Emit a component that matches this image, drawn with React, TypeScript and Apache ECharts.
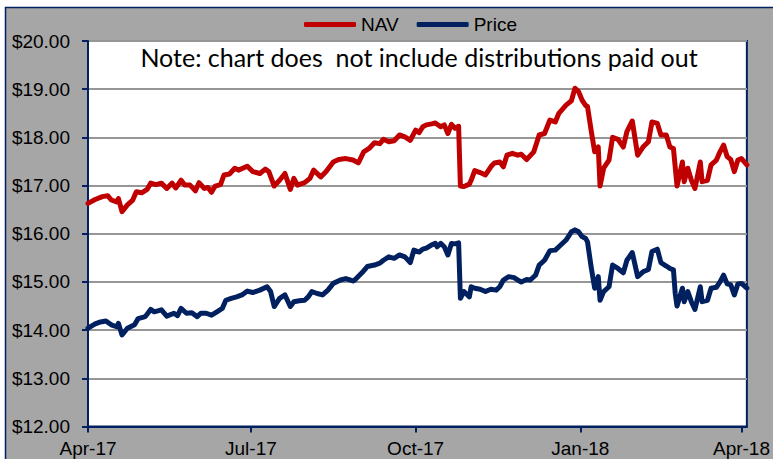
import React, { useEffect, useRef } from "react";
import * as echarts from "echarts";

const navDates = [
  "2017-04-01","2017-04-05","2017-04-09","2017-04-12","2017-04-14","2017-04-17","2017-04-18","2017-04-20","2017-04-23","2017-04-26","2017-04-28",
  "2017-05-01","2017-05-04","2017-05-06","2017-05-09","2017-05-12","2017-05-15","2017-05-18","2017-05-20","2017-05-23","2017-05-25","2017-05-28","2017-05-31",
  "2017-06-02","2017-06-05","2017-06-07","2017-06-09","2017-06-11","2017-06-14","2017-06-16","2017-06-19","2017-06-22","2017-06-24","2017-06-29",
  "2017-07-02","2017-07-06","2017-07-09","2017-07-11","2017-07-14","2017-07-17","2017-07-20","2017-07-23","2017-07-25","2017-07-27","2017-07-31",
  "2017-08-03","2017-08-05","2017-08-09","2017-08-12","2017-08-16","2017-08-19","2017-08-23","2017-08-27","2017-08-30",
  "2017-09-02","2017-09-05","2017-09-08","2017-09-11","2017-09-13","2017-09-16","2017-09-19","2017-09-22","2017-09-25","2017-09-28",
  "2017-10-01","2017-10-03","2017-10-05","2017-10-07","2017-10-10","2017-10-12","2017-10-15","2017-10-17","2017-10-19","2017-10-21","2017-10-23","2017-10-25","2017-10-26","2017-10-28","2017-10-31",
  "2017-11-01","2017-11-03","2017-11-06","2017-11-09","2017-11-12","2017-11-14","2017-11-17","2017-11-19","2017-11-21","2017-11-24","2017-11-27","2017-11-29",
  "2017-12-02","2017-12-06","2017-12-09","2017-12-12","2017-12-15","2017-12-18","2017-12-20","2017-12-24","2017-12-27","2017-12-29","2017-12-31",
  "2018-01-02","2018-01-04","2018-01-05","2018-01-07","2018-01-09","2018-01-11","2018-01-12","2018-01-14","2018-01-17","2018-01-19","2018-01-22","2018-01-25","2018-01-27","2018-01-30",
  "2018-02-02","2018-02-05","2018-02-08","2018-02-10","2018-02-13","2018-02-15","2018-02-18","2018-02-20","2018-02-22","2018-02-24","2018-02-27","2018-02-28",
  "2018-03-02","2018-03-04","2018-03-06","2018-03-09","2018-03-10","2018-03-13","2018-03-15","2018-03-18","2018-03-20","2018-03-22","2018-03-24","2018-03-26","2018-03-28","2018-03-30",
  "2018-04-01","2018-04-04",
];

const navValues = [
  16.63,16.71,16.77,16.79,16.70,16.66,16.73,16.46,16.60,16.70,16.87,
  16.85,16.92,17.05,17.02,17.05,16.94,17.05,16.95,17.11,17.01,17.01,16.89,
  17.06,16.94,16.96,16.86,16.99,17.02,17.22,17.24,17.36,17.32,17.40,
  17.29,17.25,17.34,17.29,16.99,17.11,17.25,16.92,17.15,17.01,17.06,
  17.15,17.32,17.18,17.29,17.49,17.54,17.56,17.53,17.47,
  17.70,17.77,17.89,17.87,17.96,17.91,17.93,18.05,18.01,17.94,
  18.15,18.10,18.22,18.26,18.28,18.30,18.22,18.26,18.08,18.27,18.19,18.23,16.99,16.98,17.03,
  17.11,17.31,17.27,17.22,17.39,17.47,17.49,17.39,17.63,17.67,17.63,17.65,
  17.54,17.70,18.05,18.08,18.36,18.32,18.50,18.67,18.76,19.02,18.95,
  18.77,18.66,18.64,18.15,17.70,17.80,16.99,17.36,17.53,18.00,17.96,17.80,18.12,18.34,
  17.63,17.80,17.91,18.32,18.29,18.05,18.05,17.80,17.77,16.99,17.49,17.08,
  17.36,17.11,16.94,17.49,17.08,17.11,17.43,17.53,17.70,17.84,17.60,17.54,17.29,17.53,
  17.56,17.43,
];

const priceDates = [
  "2017-04-01","2017-04-05","2017-04-08","2017-04-11","2017-04-14","2017-04-17","2017-04-18","2017-04-20","2017-04-23","2017-04-27","2017-04-29",
  "2017-05-03","2017-05-06","2017-05-08","2017-05-12","2017-05-15","2017-05-19","2017-05-21","2017-05-23","2017-05-26","2017-05-29",
  "2017-06-01","2017-06-03","2017-06-06","2017-06-09","2017-06-12","2017-06-15","2017-06-17","2017-06-20","2017-06-23","2017-06-26","2017-06-29",
  "2017-07-02","2017-07-06","2017-07-10","2017-07-12","2017-07-14","2017-07-17","2017-07-20","2017-07-23","2017-07-25","2017-07-28","2017-07-31",
  "2017-08-02","2017-08-04","2017-08-07","2017-08-10","2017-08-13","2017-08-16","2017-08-20","2017-08-23","2017-08-27","2017-08-28",
  "2017-09-01","2017-09-04","2017-09-08","2017-09-11","2017-09-13","2017-09-16","2017-09-19","2017-09-22","2017-09-25","2017-09-28","2017-09-30",
  "2017-10-03","2017-10-05","2017-10-07","2017-10-10","2017-10-12","2017-10-13","2017-10-15","2017-10-17","2017-10-19","2017-10-21","2017-10-23","2017-10-25","2017-10-26","2017-10-28","2017-10-30","2017-10-31",
  "2017-11-01","2017-11-03","2017-11-06","2017-11-09","2017-11-12","2017-11-15","2017-11-17","2017-11-19","2017-11-22","2017-11-25","2017-11-27","2017-11-29",
  "2017-12-02","2017-12-04","2017-12-07","2017-12-09","2017-12-12","2017-12-15","2017-12-18","2017-12-20","2017-12-24","2017-12-27","2017-12-29","2017-12-31",
  "2018-01-02","2018-01-04","2018-01-05","2018-01-07","2018-01-09","2018-01-11","2018-01-12","2018-01-14","2018-01-17","2018-01-19","2018-01-22","2018-01-25","2018-01-27","2018-01-30",
  "2018-02-02","2018-02-05","2018-02-08","2018-02-10","2018-02-13","2018-02-15","2018-02-18","2018-02-20","2018-02-22","2018-02-23","2018-02-24","2018-02-27","2018-02-28",
  "2018-03-02","2018-03-04","2018-03-06","2018-03-09","2018-03-10","2018-03-13","2018-03-15","2018-03-18","2018-03-20","2018-03-22","2018-03-24","2018-03-26","2018-03-28","2018-03-30",
  "2018-04-01","2018-04-04",
];

const priceValues = [
  14.04,14.13,14.17,14.19,14.11,14.07,14.14,13.90,14.04,14.11,14.24,
  14.28,14.43,14.38,14.42,14.29,14.35,14.30,14.45,14.35,14.36,
  14.28,14.35,14.35,14.31,14.38,14.45,14.62,14.66,14.69,14.73,14.81,
  14.78,14.83,14.90,14.80,14.49,14.66,14.73,14.49,14.59,14.61,14.62,
  14.69,14.80,14.76,14.73,14.83,14.97,15.04,15.07,15.02,15.04,
  15.19,15.32,15.35,15.39,15.45,15.52,15.49,15.56,15.52,15.40,15.66,
  15.62,15.68,15.70,15.77,15.80,15.73,15.80,15.73,15.56,15.80,15.79,15.81,14.66,14.80,14.73,14.69,
  14.90,14.87,14.85,14.80,14.85,14.83,14.90,15.04,15.11,15.09,15.04,15.00,
  15.05,15.04,15.14,15.35,15.45,15.65,15.66,15.73,15.87,16.04,16.08,16.04,
  15.94,15.90,15.83,15.32,14.87,15.11,14.62,14.80,14.90,15.35,15.28,15.19,15.45,15.61,
  15.11,15.21,15.26,15.63,15.68,15.40,15.33,15.28,15.25,14.76,14.50,14.87,14.59,
  14.80,14.59,14.43,14.90,14.59,14.62,14.87,14.89,15.00,15.14,14.96,14.94,14.73,14.96,
  14.97,14.87,
];

const quarterTicks = ["2017-04-01", "2017-07-01", "2017-10-01", "2018-01-01", "2018-04-01"];
const axisStart = "2017-04-01";
const axisEnd = "2018-04-04";
const yMin = 12;
const yMax = 20;
const yStep = 1;
const seriesNames = ["NAV", "Price"];
const noteText = "Note: chart does  not include distributions paid out";

const MONTHS = ["Jan","Feb","Mar","Apr","May","Jun","Jul","Aug","Sep","Oct","Nov","Dec"];

function toTime(s: string): number {
  const [y, m, d] = s.split("-").map(Number);
  return new Date(y, m - 1, d).getTime();
}

const NAVY = "#002060";
const RED = "#C00000";
const AXIS_FONT = "'Liberation Sans', Arial, sans-serif";

export default function App() {
  const ref = useRef<HTMLDivElement>(null);

  useEffect(() => {
    if (!ref.current) return;
    const chart = echarts.init(ref.current, null, { renderer: "svg" });

    const navData = navDates.map((d, i) => [toTime(d), navValues[i]]);
    const priceData = priceDates.map((d, i) => [toTime(d), priceValues[i]]);
    const ticks = quarterTicks.map(toTime);

    chart.setOption({
      animation: false,
      backgroundColor: "#ffffff",
      graphic: [
        {
          type: "rect",
          z: -10,
          silent: true,
          shape: { x: 5.5, y: 7.5, width: 800, height: 500 },
          style: { fill: "#a6a6a6", stroke: NAVY, lineWidth: 1.5 },
        },
        {
          type: "text",
          z: 10,
          x: 419,
          y: 57,
          style: {
            text: noteText,
            font: "25px Lato, 'Noto Sans', sans-serif",
            fill: "#000000",
            textAlign: "center",
            textVerticalAlign: "middle",
          },
        },
      ],
      legend: {
        data: [
          { name: seriesNames[0], icon: "roundRect" },
          { name: seriesNames[1], icon: "roundRect" },
        ],
        left: 299,
        top: 10,
        itemWidth: 52,
        itemHeight: 5,
        itemGap: 18,
        textStyle: { fontSize: 19, fontFamily: AXIS_FONT, color: "#000" },
      },
      grid: {
        left: 88,
        right: 21,
        top: 41,
        bottom: 32.5,
        show: true,
        backgroundColor: "#ffffff",
        borderColor: NAVY,
        borderWidth: 2,
        containLabel: false,
      },
      xAxis: {
        type: "value",
        min: toTime(axisStart),
        max: toTime(axisEnd),
        axisLine: { show: true, lineStyle: { color: NAVY, width: 2 } },
        axisTick: {
          show: true,
          customValues: ticks,
          length: 6,
          lineStyle: { color: NAVY, width: 2 },
        },
        axisLabel: {
          customValues: ticks,
          margin: 12,
          fontSize: 19,
          fontFamily: AXIS_FONT,
          color: "#000",
          formatter: (val: number) => {
            const d = new Date(val);
            return MONTHS[d.getMonth()] + "-" + String(d.getFullYear()).slice(2);
          },
        },
        splitLine: { show: false },
      },
      yAxis: {
        type: "value",
        min: yMin,
        max: yMax,
        interval: yStep,
        axisLine: { show: true, lineStyle: { color: NAVY, width: 2 } },
        axisTick: { show: true, length: 6, lineStyle: { color: NAVY, width: 2 } },
        axisLabel: {
          margin: 18,
          fontSize: 19,
          fontFamily: AXIS_FONT,
          color: "#000",
          formatter: (v: number) => "$" + v.toFixed(2),
        },
        splitLine: { show: true, lineStyle: { color: "#969696", width: 2 } },
      },
      series: [
        {
          name: seriesNames[0],
          type: "line",
          data: navData,
          symbol: "none",
          showSymbol: false,
          lineStyle: { color: RED, width: 5, cap: "round", join: "round" },
          itemStyle: { color: RED },
        },
        {
          name: seriesNames[1],
          type: "line",
          data: priceData,
          symbol: "none",
          showSymbol: false,
          lineStyle: { color: NAVY, width: 5, cap: "round", join: "round" },
          itemStyle: { color: NAVY },
        },
      ],
    });

    return () => chart.dispose();
  }, []);

  return (
    <div
      ref={ref}
      style={{ position: "absolute", left: 0, top: 0, width: 773, height: 459 }}
    />
  );
}
